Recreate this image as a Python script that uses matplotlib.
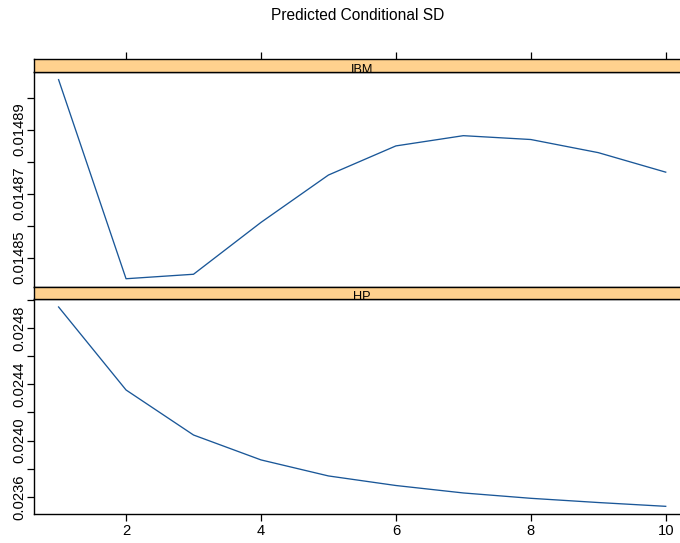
import matplotlib
matplotlib.use("Agg")
import matplotlib.pyplot as plt
import numpy as np

plt.rcParams['font.family'] = ['Liberation Sans', 'DejaVu Sans']

# forecast horizon and predicted conditional standard deviations
horizon = [1, 2, 3, 4, 5, 6, 7, 8, 9, 10]
sd_ibm = [0.0149056, 0.0148434, 0.0148448, 0.0148610, 0.0148758,
          0.0148849, 0.0148881, 0.0148869, 0.0148828, 0.0148767]
sd_hp = [0.024950, 0.024360, 0.024040, 0.023863, 0.023749,
         0.023681, 0.023628, 0.023590, 0.023560, 0.023533]

panel_names = ["IBM", "HP"]
ibm_ticks = [0.01485, 0.01486, 0.01487, 0.01488, 0.01489, 0.01490]
ibm_labels = ["0.01485", "", "0.01487", "", "0.01489", ""]
hp_ticks = [0.0236, 0.0238, 0.0240, 0.0242, 0.0244, 0.0246, 0.0248, 0.0250]
hp_labels = ["0.0236", "", "0.0240", "", "0.0244", "", "0.0248", ""]
x_ticks = [2, 4, 6, 8, 10]

W, H = 680, 543
fig = plt.figure(figsize=(W / 100, H / 100), dpi=100)

line_col = "#1A5798"
strip_col = "#FFD18E"
fs = 10.6
tick_len = 5.2


def px_rect(left, top, right, bottom):
    return [left / W, 1 - bottom / H, (right - left) / W, (bottom - top) / H]


def padded(vals):
    lo, hi = min(vals), max(vals)
    pad = 0.04 * (hi - lo)
    return lo - pad, hi + pad


xlim = padded(horizon)
L, R = 34.3, 690.0

layout = [
    (sd_ibm, ibm_ticks, ibm_labels, 58.7, 71.7, 286.7),
    (sd_hp, hp_ticks, hp_labels, 286.7, 299.0, 514.3),
]

for i, (vals, yt, yl, s_top, p_top, p_bot) in enumerate(layout):
    ax = fig.add_axes(px_rect(L, p_top, R, p_bot))
    ax.plot(horizon, vals, color=line_col, lw=0.95)
    ax.set_xlim(*xlim)
    ax.set_ylim(*padded(vals))
    ax.set_yticks(yt)
    ax.set_yticklabels(yl, rotation=90, va="center", fontsize=fs)
    ax.set_xticks(x_ticks)
    if i == len(layout) - 1:
        ax.set_xticklabels([str(t) for t in x_ticks], fontsize=fs)
    else:
        ax.set_xticklabels([])
        ax.tick_params(axis="x", bottom=False)
    ax.tick_params(axis="both", direction="out", length=tick_len, width=0.9,
                   color="black")
    ax.tick_params(axis="y", pad=0.6)
    ax.tick_params(axis="x", pad=1.5)
    for sp in ax.spines.values():
        sp.set_linewidth(1.0)

    sx = fig.add_axes(px_rect(L, s_top, R, p_top))
    sx.set_facecolor(strip_col)
    sx.set_xlim(*xlim)
    sx.set_ylim(0, 1)
    sx.set_yticks([])
    if i == 0:
        sx.xaxis.tick_top()
        sx.set_xticks(x_ticks)
        sx.set_xticklabels([])
        sx.tick_params(axis="x", direction="out", length=tick_len, width=0.9)
    else:
        sx.set_xticks([])
    for sp in sx.spines.values():
        sp.set_linewidth(1.0)
    sx.text(0.5, -0.08, panel_names[i], transform=sx.transAxes,
            ha="center", va="baseline", fontsize=9.2, clip_on=True)

fig.text(357.5 / W, 1 - 16 / H, "Predicted Conditional SD",
         ha="center", va="center", fontsize=11.2)

fig.savefig("out.png", dpi=100)
